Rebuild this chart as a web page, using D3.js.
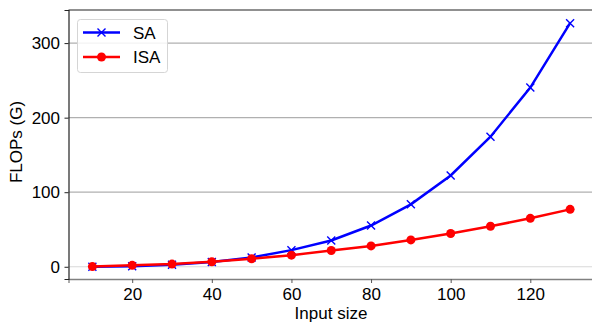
<!DOCTYPE html>
<html><head><meta charset="utf-8">
<script src="https://cdn.jsdelivr.net/npm/d3@7"></script>
<style>body{margin:0;background:#fff}svg{display:block;font-family:"Liberation Sans",Arial,sans-serif}</style>
</head><body><svg id="c" width="592" height="325"></svg>
<script>
const inputSizes = [10,20,30,40,50,60,70,80,90,100,110,120,130];
const saValues = [0.1,0.8,2.7,6.5,12.5,22.3,35.2,55.3,83.7,122.4,174.5,240.3,326.7];
const isaValues = [0.2,1.9,3.6,6.7,10.7,15.6,21.9,28,36,44.6,54.3,65,77];
const xTicks = [20,40,60,80,100,120];
const yTicks = [0,100,200,300];
const seriesNames = ["SA","ISA"];

const FS = 17;
const svg = d3.select("#c");
const L = 68.5, R = 594, T = 10, B = 279;
const x = d3.scaleLinear().domain([4,136]).range([L,R]);
const y = d3.scaleLinear().domain([-16.4,344.4]).range([B,T]);

// grid
svg.append("g").selectAll("line").data(yTicks).join("line")
  .attr("x1",L).attr("x2",R).attr("y1",d=>y(d)).attr("y2",d=>y(d))
  .attr("stroke",d=>d===0?"#d8d8d8":"#b0b0b0").attr("stroke-width",1.2);

// axes
const xa = svg.append("g").attr("transform",`translate(0,${B})`)
  .call(d3.axisBottom(x).tickValues(xTicks).tickSize(4).tickPadding(5).tickFormat(d3.format("d")));
xa.attr("font-size",FS).attr("font-family","Liberation Sans, Arial, sans-serif");
xa.select(".domain").attr("stroke","#808080").attr("stroke-width",1.3);
xa.selectAll(".tick line").attr("stroke","#555");
xa.selectAll("text").attr("fill","#000");

const ya = svg.append("g").attr("transform",`translate(${L},0)`)
  .call(d3.axisLeft(y).tickValues(yTicks).tickSize(4).tickPadding(4.5).tickFormat(d3.format("d")));
ya.attr("font-size",FS).attr("font-family","Liberation Sans, Arial, sans-serif");
ya.select(".domain").attr("stroke","#222").attr("stroke-width",1.2);
ya.selectAll(".tick line").attr("stroke","#222");
ya.selectAll("text").attr("fill","#000");

svg.append("line").attr("x1",L).attr("x2",R).attr("y1",T).attr("y2",T).attr("stroke","#222").attr("stroke-width",1.2);

// labels
svg.append("text").attr("x",331).attr("y",319).attr("text-anchor","middle").attr("font-size",FS).text("Input size");
svg.append("text").attr("transform",`translate(22,142) rotate(-90)`).attr("text-anchor","middle").attr("font-size",FS).text("FLOPs (G)");

const line = d3.line().x(d=>x(d[0])).y(d=>y(d[1]));
const sa = inputSizes.map((v,i)=>[v,saValues[i]]);
const isa = inputSizes.map((v,i)=>[v,isaValues[i]]);

function xMark(g, cx, cy, s){
  g.append("path").attr("d",`M${cx-s},${cy-s}L${cx+s},${cy+s}M${cx-s},${cy+s}L${cx+s},${cy-s}`)
   .attr("stroke","blue").attr("stroke-width",1.4).attr("fill","none");
}

svg.append("path").datum(sa).attr("d",line).attr("fill","none").attr("stroke","blue").attr("stroke-width",2.5);
const gx = svg.append("g");
sa.forEach(d=>xMark(gx,x(d[0]),y(d[1]),4));

svg.append("path").datum(isa).attr("d",line).attr("fill","none").attr("stroke","red").attr("stroke-width",2.5);
svg.append("g").selectAll("circle").data(isa).join("circle")
  .attr("cx",d=>x(d[0])).attr("cy",d=>y(d[1])).attr("r",4.5).attr("fill","red");

// legend
const lg = svg.append("g");
lg.append("rect").attr("x",77.5).attr("y",19.5).attr("width",90).attr("height",53).attr("rx",3)
  .attr("fill","#fff").attr("fill-opacity",0.85).attr("stroke","#d5d5d5");
const rows = [{n:seriesNames[0],c:"blue",y:32.5},{n:seriesNames[1],c:"red",y:57}];
rows.forEach((r,i)=>{
  lg.append("line").attr("x1",83).attr("x2",120).attr("y1",r.y).attr("y2",r.y).attr("stroke",r.c).attr("stroke-width",2.5);
  if(i===0) xMark(lg,101.5,r.y,4); else lg.append("circle").attr("cx",101.5).attr("cy",r.y).attr("r",4.5).attr("fill","red");
  lg.append("text").attr("x",133).attr("y",r.y+6).attr("font-size",FS).text(r.n);
});
</script></body></html>
